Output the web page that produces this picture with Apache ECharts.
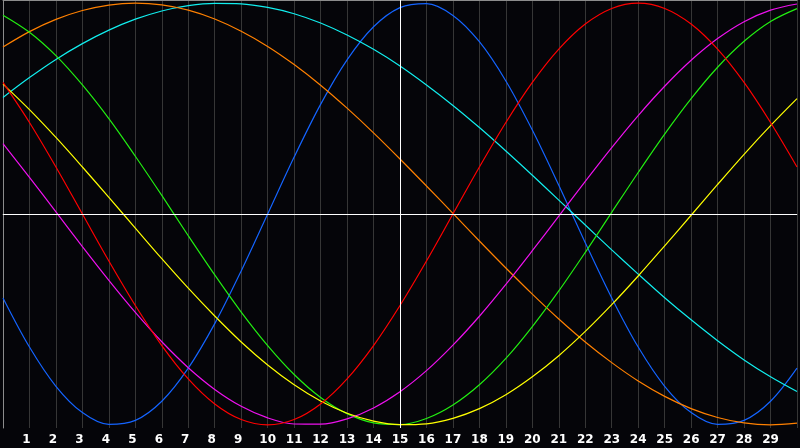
<!DOCTYPE html>
<html><head><meta charset="utf-8">
<script src="https://cdn.jsdelivr.net/npm/echarts@6/dist/echarts.min.js"></script>
<style>html,body{margin:0;padding:0;background:#050509;}#c{width:800px;height:448px;}</style>
</head><body><div id="c"></div>
<script>
const days = [0,1,2,3,4,5,6,7,8,9,10,11,12,13,14,15,16,17,18,19,20,21,22,23,24,25,26,27,28,29,30];
const tickLabels = ['1','2','3','4','5','6','7','8','9','10','11','12','13','14','15','16','17','18','19','20','21','22','23','24','25','26','27','28','29'];
const blue = [-0.398,-0.631,-0.817,-0.942,-0.998,-0.979,-0.888,-0.731,-0.520,-0.270,0.000,0.270,0.520,0.731,0.888,0.979,0.998,0.942,0.817,0.631,0.398,0.136,-0.136,-0.398,-0.631,-0.817,-0.942,-0.998,-0.979,-0.888,-0.731];
const red = [0.624,0.434,0.223,0.000,-0.223,-0.434,-0.624,-0.782,-0.901,-0.975,-1.000,-0.975,-0.901,-0.782,-0.624,-0.434,-0.223,0.000,0.223,0.434,0.624,0.782,0.901,0.975,1.000,0.975,0.901,0.782,0.624,0.434,0.223];
const green = [0.943,0.862,0.751,0.612,0.452,0.274,0.088,-0.103,-0.289,-0.465,-0.624,-0.761,-0.870,-0.947,-0.991,-0.999,-0.970,-0.906,-0.810,-0.685,-0.534,-0.365,-0.182,0.008,0.197,0.379,0.547,0.696,0.819,0.913,0.974];
const magenta = [0.334,0.174,0.010,-0.155,-0.315,-0.467,-0.606,-0.729,-0.832,-0.912,-0.967,-0.996,-0.997,-0.972,-0.920,-0.843,-0.743,-0.622,-0.485,-0.334,-0.174,-0.010,0.155,0.315,0.467,0.606,0.729,0.832,0.912,0.967,0.996];
const yellow = [0.616,0.495,0.363,0.223,0.079,-0.067,-0.212,-0.352,-0.484,-0.607,-0.716,-0.810,-0.887,-0.945,-0.982,-0.999,-0.995,-0.969,-0.923,-0.857,-0.772,-0.672,-0.557,-0.430,-0.294,-0.151,-0.006,0.140,0.283,0.419,0.547];
const orange = [0.792,0.865,0.923,0.965,0.991,1.000,0.992,0.967,0.925,0.867,0.795,0.709,0.611,0.502,0.385,0.261,0.133,0.003,-0.128,-0.256,-0.380,-0.498,-0.607,-0.705,-0.792,-0.865,-0.923,-0.965,-0.991,-1.000,-0.992];
const cyan = [0.553,0.647,0.733,0.808,0.872,0.924,0.963,0.988,0.999,0.997,0.980,0.950,0.906,0.849,0.781,0.702,0.612,0.515,0.410,0.299,0.184,0.066,-0.052,-0.170,-0.285,-0.397,-0.502,-0.601,-0.692,-0.772,-0.842];

const seriesDefs = [
  {name:'blue', data: blue, color:'#1464ff'},
  {name:'cyan', data: cyan, color:'#11eeee'},
  {name:'orange', data: orange, color:'#ff8000'},
  {name:'green', data: green, color:'#22ee11'},
  {name:'magenta', data: magenta, color:'#ee11ee'},
  {name:'yellow', data: yellow, color:'#ffff00'},
  {name:'red', data: red, color:'#ff0000'}
];

const chart = echarts.init(document.getElementById('c'), null, {renderer:'canvas'});
const series = seriesDefs.map(s => ({
  name: s.name, type:'line', smooth:0.333, showSymbol:false, silent:true,
  lineStyle:{color:s.color, width:1.2}, itemStyle:{color:s.color},
  data: days.map((d,i)=>[d, s.data[i]])
}));
series.push({
  type:'line', data:[], silent:true,
  markLine:{silent:true, symbol:'none', label:{show:false},
    lineStyle:{color:'#ffffff', width:1, type:'solid'},
    data:[{xAxis:15},{yAxis:0}]}
});
chart.setOption({
  backgroundColor:'#050509',
  animation:false,
  grid:{left:0, right:0, top:0, bottom:20},
  xAxis:[{
    type:'value', min:0, max:30, interval:1,
    axisLine:{show:true, lineStyle:{color:'#8c8c8c', width:1}},
    axisTick:{show:false},
    axisLabel:{color:'#ffffff', fontWeight:'bold', fontSize:12, fontFamily:'DejaVu Sans', margin:6,
      rich:{
        d:{color:'#ffffff', fontWeight:'bold', fontSize:12, fontFamily:'DejaVu Sans'},
        sp:{fontSize:12, width:6}
      },
      formatter: v => {
        if (v < 1 || v > 29) return '';
        const t = tickLabels[v-1];
        return t.length === 1 ? '{d|' + t + '}{sp| }' : '{d|' + t + '}';
      }},
    splitLine:{show:true, lineStyle:{color:'#363636', width:1}}
  },{
    type:'value', position:'top', min:0, max:30,
    axisLine:{show:true, lineStyle:{color:'#8c8c8c', width:1}},
    axisTick:{show:false}, axisLabel:{show:false}, splitLine:{show:false}
  }],
  yAxis:{
    type:'value', min:-1.015, max:1.015,
    axisLine:{show:true, onZero:false, lineStyle:{color:'#8c8c8c', width:1}},
    axisTick:{show:false}, axisLabel:{show:false}, splitLine:{show:false}
  },
  series: series
});
</script></body></html>
